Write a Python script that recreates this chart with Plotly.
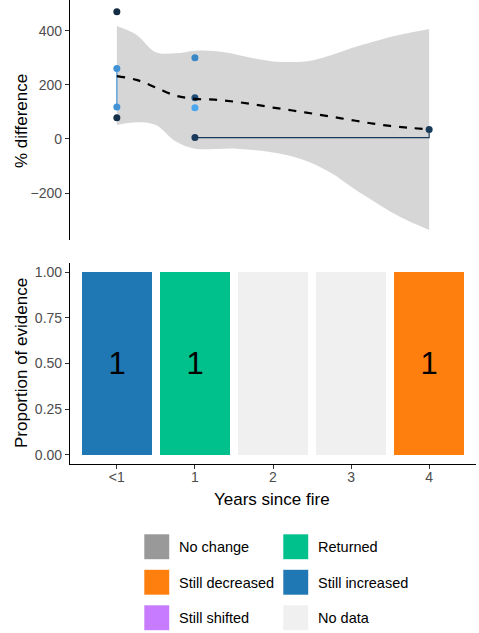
import plotly.graph_objects as go

W, H = 479, 633

# ---------------- data ----------------
# top panel: individual study points (years since fire, % difference)
study_ids = ["A", "B", "C", "D", "E", "F", "G"]
study_x = [[0], [0, 0], [0], [1], [1], [1], [1, 4]]
study_y = [[470], [260, 118], [78], [300], [152], [115], [5, 35]]
study_colors = ["#132B43", "#4292D6", "#15304A", "#3A87C8", "#1E4E7A", "#4CA6EE", "#1A3A5A"]

# smoother fit + confidence band
fit_x = [0, 0.25, 0.5, 0.75, 1, 1.25, 1.5, 1.75, 2, 2.25, 2.5, 2.75, 3, 3.25, 3.5, 3.75, 4]
fit_y = [232, 218, 190, 160, 148, 145, 138, 128, 116, 105, 94, 82, 70, 58, 48, 41, 36]
fit_upper = [417, 385, 320, 316, 326, 325, 314, 298, 286, 284, 290, 310, 335, 356, 376, 392, 406]
fit_lower = [52, 62, 52, -8, -36, -37, -35, -41, -50, -65, -90, -127, -176, -223, -268, -305, -336]

# bottom panel: proportion of evidence
years = ["<1", "1", "2", "3", "4"]
status = ["Still increased", "Returned", "No data", "No data", "Still decreased"]
proportion = [1, 1, 1, 1, 1]
counts = ["1", "1", "", "", "1"]

legend_labels = ["No change", "Returned", "Still decreased", "Still increased", "Still shifted", "No data"]
legend_colors = ["#999999", "#00C08B", "#FF7F0E", "#1F77B4", "#C77CFF", "#F0F0F0"]
status_color = dict(zip(legend_labels, legend_colors))

top_yticks = [-200, 0, 200, 400]
bot_yticks = [0, 0.25, 0.5, 0.75, 1.0]

FONT = "Liberation Sans, Arial, sans-serif"


def px(x):
    return x / W


def py(y):
    return 1 - y / H


fig = go.Figure()

# ribbon
fig.add_trace(go.Scatter(x=fit_x, y=fit_upper, mode="lines", line=dict(width=0, shape="spline"),
                         showlegend=False, hoverinfo="skip", xaxis="x", yaxis="y"))
fig.add_trace(go.Scatter(x=fit_x, y=fit_lower, mode="lines", line=dict(width=0, shape="spline"),
                         fill="tonexty", fillcolor="rgba(153,153,153,0.4)",
                         showlegend=False, hoverinfo="skip", xaxis="x", yaxis="y"))

# study step lines + points
for sid, xs, ys, c in zip(study_ids, study_x, study_y, study_colors):
    fig.add_trace(go.Scatter(x=xs, y=ys, mode="lines+markers",
                             line=dict(color=c, width=1.2, shape="hv"),
                             marker=dict(color=c, size=7),
                             showlegend=False, xaxis="x", yaxis="y", name=sid))

# fitted dashed line
fig.add_trace(go.Scatter(x=fit_x, y=fit_y, mode="lines",
                         line=dict(color="black", width=2.2, dash="8px,8px", shape="spline"),
                         showlegend=False, xaxis="x", yaxis="y"))

# bars
fig.add_trace(go.Bar(x=years, y=proportion,
                     marker=dict(color=[status_color[s] for s in status], line=dict(width=0)),
                     width=0.9, text=counts, textposition="inside",
                     insidetextanchor="middle", textangle=0,
                     textfont=dict(size=31, color="black", family=FONT),
                     showlegend=False, xaxis="x2", yaxis="y2", hoverinfo="skip"))

x_dom = [px(70), px(476)]
tickfont = dict(family=FONT, size=14, color="#4D4D4D")

fig.update_layout(
    width=W, height=H,
    margin=dict(l=0, r=0, t=0, b=0),
    paper_bgcolor="white", plot_bgcolor="white",
    font=dict(family=FONT),
    xaxis=dict(domain=x_dom, range=[-0.6, 4.6], visible=False, anchor="y"),
    yaxis=dict(domain=[py(240), 1], range=[-373, 513], anchor="x",
               tickvals=top_yticks, ticks="outside", ticklen=4, tickcolor="#333333",
               showline=True, linecolor="black", linewidth=1.2, showgrid=False,
               zeroline=False, tickfont=tickfont),
    xaxis2=dict(domain=x_dom, type="category", categoryorder="array", categoryarray=years,
                range=[-0.6, 4.6], anchor="y2", ticks="outside", ticklen=4,
                ticklabelstandoff=-4,
                tickcolor="#333333", showline=True, linecolor="black", linewidth=1.2,
                showgrid=False, tickfont=tickfont),
    yaxis2=dict(domain=[py(464), py(263)], range=[-0.05, 1.05], anchor="x2",
                tickvals=bot_yticks, tickformat=".2f", ticks="outside", ticklen=4,
                tickcolor="#333333", showline=True, linecolor="black", linewidth=1.2,
                showgrid=False, zeroline=False, tickfont=tickfont),
    bargap=0,
)

title_font = dict(family=FONT, size=17, color="black")
annotations = [
    dict(text="% difference", x=px(21), y=py(121), textangle=-90),
    dict(text="Proportion of evidence", x=px(21), y=py(363), textangle=-90),
    dict(text="Years since fire", x=px(272), y=py(499), textangle=0),
]
anns = []
for a in annotations:
    anns.append(dict(text=a["text"], x=a["x"], y=a["y"], xref="paper", yref="paper",
                     showarrow=False, textangle=a["textangle"], font=title_font,
                     xanchor="center", yanchor="middle"))

# manual legend (2 columns x 3 rows)
shapes = []
col_x = [144, 283]
row_y = [534, 569.5, 605]
for i, (lab, col) in enumerate(zip(legend_labels, legend_colors)):
    r, c = divmod(i, 2)
    x0 = col_x[c]
    y0 = row_y[r]
    shapes.append(dict(type="rect", xref="paper", yref="paper",
                       x0=px(x0), x1=px(x0 + 25.5), y0=py(y0 + 25.5), y1=py(y0),
                       fillcolor=col, line=dict(width=0.6, color="white")))
    anns.append(dict(text=lab, x=px(x0 + 33), y=py(y0 + 13), xref="paper", yref="paper",
                     showarrow=False, xanchor="left", yanchor="middle",
                     font=dict(family=FONT, size=14.5, color="black")))

fig.update_layout(annotations=anns, shapes=shapes)

fig.write_html("out.html")
